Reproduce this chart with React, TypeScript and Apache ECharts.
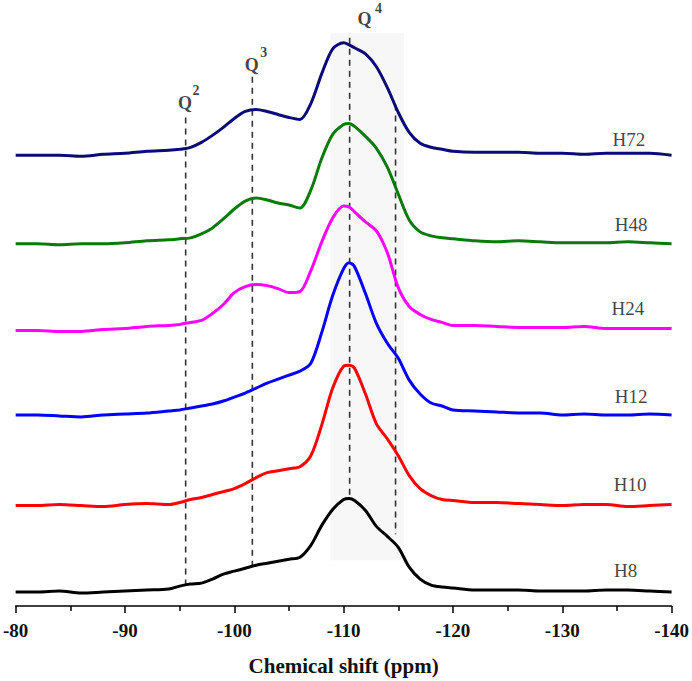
import React, { useEffect, useRef } from "react";
import * as echarts from "echarts";

// Chemical shift positions (ppm) shared by all spectra
const ppm = [-80, -82, -84, -86, -88, -90, -92, -94, -95, -96, -97, -98, -99, -100, -101, -102, -103, -104, -105, -106, -107, -108, -109, -110, -110.5, -111, -112, -113, -114, -115, -116, -117, -118, -119, -120, -122, -124, -126, -128, -130, -132, -134, -136, -138, -140];

// Intensities (relative, above each trace's own baseline)
const H8 = [0, 0, 1, -1, 0, 1, 2, 3, 6, 8, 9, 13, 18, 21, 24, 27, 29, 31, 33, 35, 47, 67, 83, 93, 94, 92, 82, 66, 56, 45, 25, 13, 7, 5, 4, 2, 2, 2, 1, 1, 1, 2, 2, 1, 0];
const H10 = [0, 0, 1, 0, -1, 1, 2, 1, 3, 6, 8, 11, 14, 17, 22, 28, 33, 35, 37, 39, 50, 81, 118, 140, 141, 138, 112, 82, 67, 50, 30, 17, 10, 6, 5, 3, 3, 2, 1, 0, 1, 1, -1, 0, 1];
const H12 = [0, 0, -1, -2, 0, 1, 2, 4, 5, 7, 9, 11, 14, 18, 22, 27, 32, 36, 40, 44, 52, 83, 120, 147, 153, 149, 122, 92, 72, 57, 35, 21, 12, 9, 5, 4, 3, 2, 2, 0, 1, 0, 0, 1, 0];
const H24 = [0, 0, -1, -1, 1, 2, 4, 5, 6, 8, 10, 17, 26, 38, 44, 46, 45, 42, 38, 39, 60, 89, 113, 125, 124, 119, 109, 100, 78, 43, 24, 16, 11, 8, 5, 5, 4, 3, 3, 3, 4, 2, 2, 2, 2];
const H48 = [0, 0, -1, 0, 0, 1, 3, 4, 5, 6, 10, 16, 25, 35, 43, 46, 44, 41, 39, 36, 54, 86, 110, 120, 121, 118, 108, 96, 77, 50, 24, 12, 8, 6, 5, 3, 2, 3, 2, 1, 1, 1, 2, 1, 0];
const H72 = [0, 0, 0, -1, 1, 2, 4, 5, 6, 8, 13, 20, 28, 37, 44, 46, 44, 41, 38, 36, 52, 82, 107, 113, 111, 108, 102, 89, 68, 43, 23, 12, 8, 6, 4, 3, 3, 3, 2, 2, 1, 2, 2, 2, 0];

const sampleNames = ["H8", "H10", "H12", "H24", "H48", "H72"];
const sampleValues = [H8, H10, H12, H24, H48, H72];
const sampleOffsets = [14, 101, 192, 277, 364, 453];
const sampleColors = ["#000000", "#ff0000", "#0000ff", "#ff00ff", "#0a7a0a", "#0a0a78"];
const sampleLabelX = [-135.8, -136.2, -136.3, -136.0, -136.3, -136.1];
const sampleLabelY = [36, 122, 211, 299, 383, 469];

// Reference lines (Q2, Q3, Q4 and shoulder)
const refNames = ["2", "3", "4", ""];
const refX = [-95.55, -101.65, -110.55, -114.75];
const refTop = [491, 532, 571, 504];
const refBottom = [21, 39, 109, 72];
const qLabelX = [-95.5, -101.6, -111.9];
const qLabelY = [506, 544, 590];
const qSupOffset = [[11, -12], [12, -12], [14, -10]];

// Shaded Q4 region
const shadeX = [-108.8, -115.5];
const shadeY = [46, 576];

const xTicks = { min: -140, max: -80, interval: 10 };

const FONT = "'Times New Roman', 'Liberation Serif', serif";

export default function App() {
  const ref = useRef<HTMLDivElement>(null);
  useEffect(() => {
    if (!ref.current) return;
    const chart = echarts.init(ref.current, undefined, { renderer: "svg" });
    const series: any[] = [];

    // shading holder
    series.push({
      type: "line",
      data: [],
      silent: true,
      z: 1,
      markArea: {
        silent: true,
        itemStyle: { color: "#f7f7f7" },
        data: [[{ xAxis: shadeX[0], yAxis: shadeY[0] }, { xAxis: shadeX[1], yAxis: shadeY[1] }]],
      },
    });

    refX.forEach((x, i) => {
      series.push({
        type: "line",
        data: [[x, refTop[i]], [x, refBottom[i]]],
        symbol: "none",
        silent: true,
        z: 2,
        lineStyle: { color: "#333333", width: 1.6, type: [6, 5] },
      });
    });

    sampleNames.forEach((name, i) => {
      series.push({
        name,
        type: "line",
        data: ppm.map((x, j) => [x, sampleOffsets[i] + sampleValues[i][j]]),
        symbol: "none",
        smooth: 0.3,
        z: 5,
        lineStyle: { color: sampleColors[i], width: 3 },
      });
    });

    series.push({
      type: "scatter",
      symbolSize: 0,
      silent: true,
      z: 6,
      data: sampleNames.map((n, i) => ({ name: n, value: [sampleLabelX[i], sampleLabelY[i]] })),
      label: {
        show: true,
        position: "inside",
        formatter: "{b}",
        color: "#111",
        fontFamily: FONT,
        fontSize: 19,
      },
    });

    series.push({
      type: "scatter",
      symbolSize: 0,
      silent: true,
      z: 6,
      data: qLabelX.map((x, i) => ({ name: "Q", value: [x, qLabelY[i]] })),
      label: {
        show: true,
        position: "inside",
        formatter: "{b}",
        color: "#111",
        fontFamily: FONT,
        fontWeight: "bold",
        fontSize: 18,
      },
    });

    series.push({
      type: "scatter",
      symbolSize: 0,
      silent: true,
      z: 6,
      data: qLabelX.map((x, i) => ({
        name: refNames[i],
        value: [x, qLabelY[i]],
        label: { offset: qSupOffset[i] },
      })),
      label: {
        show: true,
        position: "inside",
        formatter: "{b}",
        color: "#111",
        fontFamily: FONT,
        fontWeight: "bold",
        fontSize: 14,
      },
    });

    chart.setOption({
      animation: false,
      grid: { left: 13, right: 19, top: 9, bottom: 72 },
      xAxis: {
        type: "value",
        min: xTicks.min,
        max: xTicks.max,
        interval: xTicks.interval,
        inverse: true,
        name: "Chemical shift (ppm)",
        nameLocation: "middle",
        nameGap: 49,
        nameTextStyle: { fontFamily: FONT, fontWeight: "bold", fontSize: 21, color: "#111" },
        axisLine: { show: true, lineStyle: { color: "#000", width: 1.5 } },
        axisTick: { show: true, length: 7, lineStyle: { color: "#000", width: 1.5 } },
        minorTick: { show: true, splitNumber: 2, length: 5, lineStyle: { color: "#000", width: 1.5 } },
        splitLine: { show: false },
        axisLabel: { margin: 15, fontFamily: FONT, fontWeight: "bold", fontSize: 19, color: "#111" },
      },
      yAxis: {
        type: "value",
        min: 0,
        max: 600,
        show: false,
        splitLine: { show: false },
      },
      series,
    });
    return () => chart.dispose();
  }, []);
  return (
    <div
      ref={ref}
      style={{ position: "fixed", left: 0, top: 0, width: 692, height: 681, background: "#fff" }}
    />
  );
}
